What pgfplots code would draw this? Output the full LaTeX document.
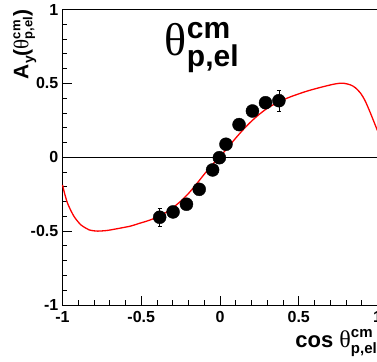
\documentclass[border=0pt]{standalone}
\usepackage{fontspec}
\setmainfont{Liberation Sans}
\newfontfamily\grk{Liberation Serif}
\usepackage{pgfplots}
\pgfplotsset{compat=1.18}
% theta^{cm}_{p,el}: #1 theta size, #2 script size, #3 raise of cm, #4 drop of p,el
\newcommand{\thcm}[4]{{\fontsize{#1}{#1}\selectfont\grk θ}{\fontsize{#2}{#2}\selectfont\bfseries\rlap{\raisebox{#3}{cm}}\raisebox{-#4}{p,el}}}
\begin{document}
\begin{tikzpicture}
\begin{axis}[
  name=ax,
  scale only axis,
  width=315pt, height=295.5pt,
  xmin=-1, xmax=1, ymin=-1, ymax=1,
  axis line style={black, line width=0.9pt},
  tick align=inside,
  xtick pos=bottom, ytick pos=left,
  xtick={-1,-0.5,0,0.5,1}, xticklabels={-1,-0.5,0,0.5,1},
  ytick={-1,-0.5,0,0.5,1}, yticklabels={-1,-0.5,0,0.5,1},
  minor xtick={-0.9,-0.8,-0.7,-0.6,-0.4,-0.3,-0.2,-0.1,0.1,0.2,0.3,0.4,0.6,0.7,0.8,0.9},
  minor ytick={-0.9,-0.8,-0.7,-0.6,-0.4,-0.3,-0.2,-0.1,0.1,0.2,0.3,0.4,0.6,0.7,0.8,0.9},
  major tick length=9pt, minor tick length=4.5pt,
  tick style={black, line width=0.8pt},
  xticklabel style={font=\fontsize{16}{16}\selectfont\bfseries, anchor=north, inner sep=0pt, yshift=-6pt},
  yticklabel style={font=\fontsize{16}{16}\selectfont\bfseries, anchor=east, inner sep=0pt, xshift=-4pt},
  clip=false,
]
\coordinate (o) at (rel axis cs:0,0);
\addplot[black, line width=0.8pt] coordinates {(-1,0) (1,0)};
\addplot[red, line width=1.3pt, smooth] coordinates {
(-1.000,-0.187) (-0.985,-0.252) (-0.968,-0.311) (-0.945,-0.365) (-0.926,-0.402)
(-0.905,-0.432) (-0.883,-0.458) (-0.855,-0.478) (-0.830,-0.492) (-0.800,-0.498)
(-0.777,-0.500) (-0.720,-0.496) (-0.670,-0.487) (-0.620,-0.477) (-0.564,-0.465)
(-0.511,-0.447) (-0.458,-0.430) (-0.400,-0.406) (-0.350,-0.378) (-0.298,-0.340)
(-0.250,-0.298) (-0.200,-0.245) (-0.150,-0.182) (-0.100,-0.115) (-0.050,-0.052)
(0.000,0.005) (0.050,0.066) (0.100,0.130) (0.150,0.190) (0.200,0.244)
(0.250,0.291) (0.300,0.331) (0.350,0.362) (0.400,0.388) (0.450,0.410)
(0.511,0.433) (0.560,0.450) (0.617,0.467) (0.680,0.484) (0.720,0.494)
(0.755,0.500) (0.790,0.500) (0.830,0.489) (0.860,0.470) (0.893,0.433)
(0.920,0.385) (0.947,0.320) (0.970,0.260) (1.000,0.180)
};
\addplot[black, only marks, mark=*, mark size=6.5pt,
  error bars/.cd, y dir=both, y explicit,
  error bar style={black, line width=0.7pt},
  error mark options={black, rotate=90, mark size=2pt, line width=0.7pt}]
  coordinates {
(-0.383,-0.406) +- (0,0.062)
(-0.298,-0.370) +- (0,0.030)
(-0.213,-0.318) +- (0,0.028)
(-0.132,-0.217) +- (0,0.025)
(-0.047,-0.086) +- (0,0.025)
(-0.004,-0.003) +- (0,0.025)
(0.038,0.088) +- (0,0.025)
(0.121,0.221) +- (0,0.025)
(0.206,0.313) +- (0,0.028)
(0.289,0.369) +- (0,0.030)
(0.374,0.383) +- (0,0.071)
};
\node[anchor=base west, inner sep=0pt] at (axis cs:-0.351,0.692) {\thcm{46}{30}{17pt}{11pt}};
\node[anchor=base east, inner sep=0pt, xshift=-0.5pt, yshift=-42pt] at (rel axis cs:1,0)
  {{\fontsize{22}{22}\selectfont\bfseries cos }\thcm{24}{15}{10pt}{6pt}};
\node[xshift=-34pt, rotate=90, anchor=base east, inner sep=0pt] at (rel axis cs:0,1)
  {{\fontsize{21}{21}\selectfont\bfseries A\raisebox{-5pt}{\fontsize{14}{14}\selectfont y}(}\thcm{21}{13}{8pt}{4pt}{\fontsize{21}{21}\selectfont\bfseries )}};
\end{axis}
\pgfresetboundingbox
\path[use as bounding box] (o) ++(-62.5pt,-56pt) rectangle ++(377pt,361pt);
\end{tikzpicture}
\end{document}
